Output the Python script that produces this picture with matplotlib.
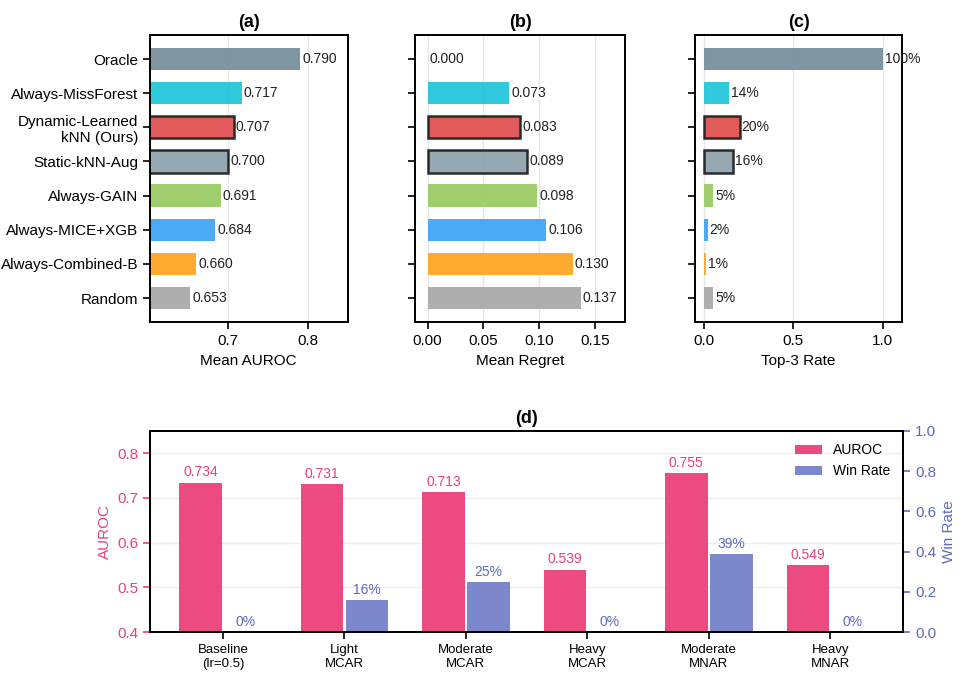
import matplotlib.pyplot as plt
import numpy as np

methods = ["Oracle", "Always-MissForest", "Dynamic-Learned\nkNN (Ours)", "Static-kNN-Aug",
           "Always-GAIN", "Always-MICE+XGB", "Always-Combined-B", "Random"]
auroc = [0.790, 0.717, 0.707, 0.700, 0.691, 0.684, 0.660, 0.653]
regret = [0.000, 0.073, 0.083, 0.089, 0.098, 0.106, 0.130, 0.137]
top3 = [1.00, 0.14, 0.20, 0.16, 0.05, 0.02, 0.01, 0.05]
colors = ["#78909C", "#26C6DA", "#E05252", "#90A4AE", "#9CCC65", "#42A5F5", "#FFA726", "#AAAAAA"]
highlight = [False, False, True, True, False, False, False, False]

scenarios = ["Baseline\n(lr=0.5)", "Light\nMCAR", "Moderate\nMCAR", "Heavy\nMCAR", "Moderate\nMNAR", "Heavy\nMNAR"]
sc_auroc = [0.734, 0.731, 0.713, 0.539, 0.755, 0.549]
sc_win = [0.00, 0.16, 0.25, 0.00, 0.39, 0.00]

plt.rcParams['font.family'] = ['Liberation Sans', 'DejaVu Sans']
fig = plt.figure(figsize=(9.68, 6.84), dpi=100)

def hbars(ax, vals, fmt, xlim, ticks, xlabel, title, show_labels):
    y = np.arange(len(vals))
    ec = ["#222222" if h else "none" for h in highlight]
    lw = [1.8 if h else 0 for h in highlight]
    ax.barh(y, vals, height=0.65, color=colors, edgecolor=ec, linewidth=lw, alpha=0.95, zorder=2)
    for yi, v in zip(y, vals):
        ax.text(v + (xlim[1] - xlim[0]) * 0.01, yi, fmt(v), va="center", ha="left", fontsize=10, color="#222222")
    ax.set_yticks(y)
    ax.set_yticklabels(methods if show_labels else [], fontsize=9.5)
    ax.invert_yaxis()
    ax.set_xlim(*xlim)
    ax.set_xticks(ticks)
    ax.tick_params(labelsize=11, length=5, width=1.2)
    ax.set_xlabel(xlabel, fontsize=11)
    ax.set_title(title, fontsize=13, fontweight="bold")
    ax.grid(axis="x", color="#e6e6e6", linewidth=1, zorder=0)
    for s in ax.spines.values():
        s.set_linewidth(1.4)

ax1 = fig.add_axes([0.155, 0.529, 0.204, 0.42])
hbars(ax1, auroc, lambda v: f"{v:.3f}", (0.6025, 0.849), [0.7, 0.8], "Mean AUROC", "(a)", True)
ax2 = fig.add_axes([0.429, 0.529, 0.217, 0.42])
hbars(ax2, regret, lambda v: f"{v:.3f}", (-0.011, 0.177), [0, 0.05, 0.10, 0.15], "Mean Regret", "(b)", False)
ax2.set_xticklabels(["0.00", "0.05", "0.10", "0.15"])
ax3 = fig.add_axes([0.718, 0.529, 0.214, 0.42])
hbars(ax3, top3, lambda v: f"{v*100:.0f}%", (-0.05, 1.11), [0, 0.5, 1.0], "Top-3 Rate", "(c)", False)

ax4 = fig.add_axes([0.155, 0.076, 0.778, 0.294])
x = np.arange(len(scenarios))
w = 0.35
pink = "#EC407A"
blue = "#5C6BC0"
ax4.bar(x - w / 2 - 0.01, sc_auroc, w, color=pink, alpha=0.95, label="AUROC", zorder=2)
ax4.set_ylim(0.4, 0.85)
ax4.set_yticks([0.4, 0.5, 0.6, 0.7, 0.8])
ax4.set_ylabel("AUROC", color=pink, fontsize=11)
ax4.tick_params(axis="y", colors=pink, labelsize=11, length=5, width=1.2)
ax4.tick_params(axis="x", labelsize=9.5, length=5, width=1.2)
ax4.set_xticks(x)
ax4.set_xticklabels(scenarios)
ax4.set_xlim(-0.6, 5.6)
ax4.grid(axis="y", color="#eeeeee", linewidth=1, zorder=0)
for xi, v in zip(x, sc_auroc):
    ax4.text(xi - w / 2 - 0.01, v + 0.008, f"{v:.3f}", ha="center", va="bottom", color=pink, fontsize=10)
ax5 = ax4.twinx()
ax5.bar(x + w / 2 + 0.01, sc_win, w, color=blue, alpha=0.8, label="Win Rate", zorder=2)
ax5.set_ylim(0, 1.0)
ax5.set_ylabel("Win Rate", color=blue, fontsize=11)
ax5.tick_params(axis="y", colors=blue, labelsize=11, length=5, width=1.2)
for xi, v in zip(x, sc_win):
    ax5.text(xi + w / 2 + 0.01, v + 0.015, f"{v*100:.0f}%", ha="center", va="bottom", color=blue, fontsize=10)
for a in (ax4, ax5):
    for s in a.spines.values():
        s.set_linewidth(1.4)
ax4.set_title("(d)", fontsize=13, fontweight="bold")
h1, l1 = ax4.get_legend_handles_labels()
h2, l2 = ax5.get_legend_handles_labels()
ax5.legend(h1 + h2, l1 + l2, loc="upper right", frameon=False, fontsize=10)

fig.savefig("out.png", dpi=100)
